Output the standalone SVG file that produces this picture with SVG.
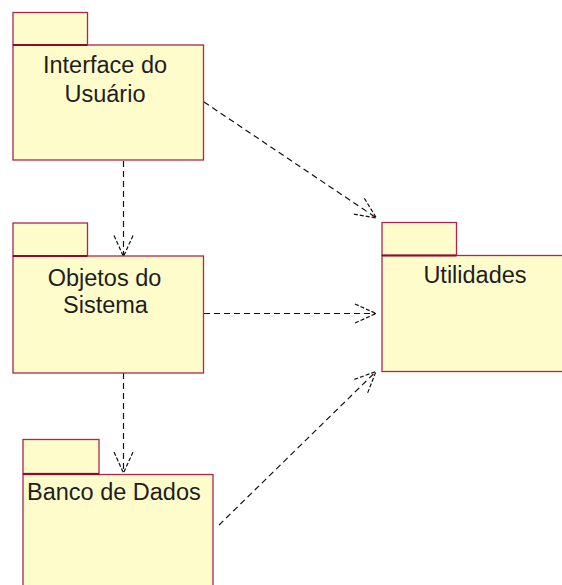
<svg xmlns="http://www.w3.org/2000/svg" width="562" height="585" viewBox="0 0 562 585">
  <style>
    .pk { fill: #fffccc; stroke: #a82850; stroke-width: 1.3; }
    .tabline { stroke: #8a0c30; stroke-width: 2.2; }
    .lbl { font-family: "Liberation Sans", Arial, sans-serif; font-size: 23.5px; fill: #1e1e1e; }
    .dep { fill: none; stroke: #111; stroke-width: 1.2; stroke-dasharray: 6 4; }
  </style>
  <defs>
    <marker id="open" markerUnits="userSpaceOnUse" markerWidth="50" markerHeight="50" refX="0" refY="0" orient="auto" overflow="visible" viewBox="-25 -25 50 50">
      <path d="M -21 -9.5 L 0 0 L -21 9.5" fill="none" stroke="#111" stroke-width="1.2" stroke-dasharray="4 2"/>
    </marker>
  </defs>
  <rect width="562" height="585" fill="#ffffff"/>

  <g id="connectors">
    <path class="dep" d="M 204 102 L 376.5 218" marker-end="url(#open)"/>
    <path class="dep" d="M 123.5 161 L 123.5 256.5" marker-end="url(#open)"/>
    <path class="dep" d="M 204 313.5 L 376 313.5" marker-end="url(#open)"/>
    <path class="dep" d="M 123.5 373 L 123.5 473" marker-end="url(#open)"/>
    <path class="dep" d="M 219 525 L 376 371.5" marker-end="url(#open)"/>
  </g>

  <g id="interface-do-usuario">
    <rect class="pk" x="13" y="12.5" width="74.5" height="32.5"/>
    <rect class="pk" x="13" y="45" width="190.5" height="115"/>
    <line class="tabline" x1="13" y1="45" x2="87.5" y2="45"/>
    <text class="lbl" x="105" y="73" text-anchor="middle">Interface do</text>
    <text class="lbl" x="105" y="102" text-anchor="middle">Usuário</text>
  </g>

  <g id="objetos-do-sistema">
    <rect class="pk" x="13" y="223" width="74.5" height="33"/>
    <rect class="pk" x="13" y="256" width="190.5" height="117"/>
    <line class="tabline" x1="13" y1="256" x2="87.5" y2="256"/>
    <text class="lbl" x="104.5" y="286" text-anchor="middle">Objetos do</text>
    <text class="lbl" x="105.5" y="313" text-anchor="middle">Sistema</text>
  </g>

  <g id="banco-de-dados">
    <rect class="pk" x="23" y="439.5" width="76" height="34"/>
    <rect class="pk" x="23" y="474.5" width="190" height="120"/>
    <line class="tabline" x1="23" y1="474" x2="99" y2="474"/>
    <text class="lbl" x="27" y="500">Banco de Dados</text>
  </g>

  <g id="utilidades">
    <rect class="pk" x="382" y="222.5" width="74.5" height="33"/>
    <rect class="pk" x="382" y="255.5" width="190" height="116"/>
    <line class="tabline" x1="382" y1="255.5" x2="456.5" y2="255.5"/>
    <text class="lbl" x="475" y="283" text-anchor="middle">Utilidades</text>
  </g>
</svg>
